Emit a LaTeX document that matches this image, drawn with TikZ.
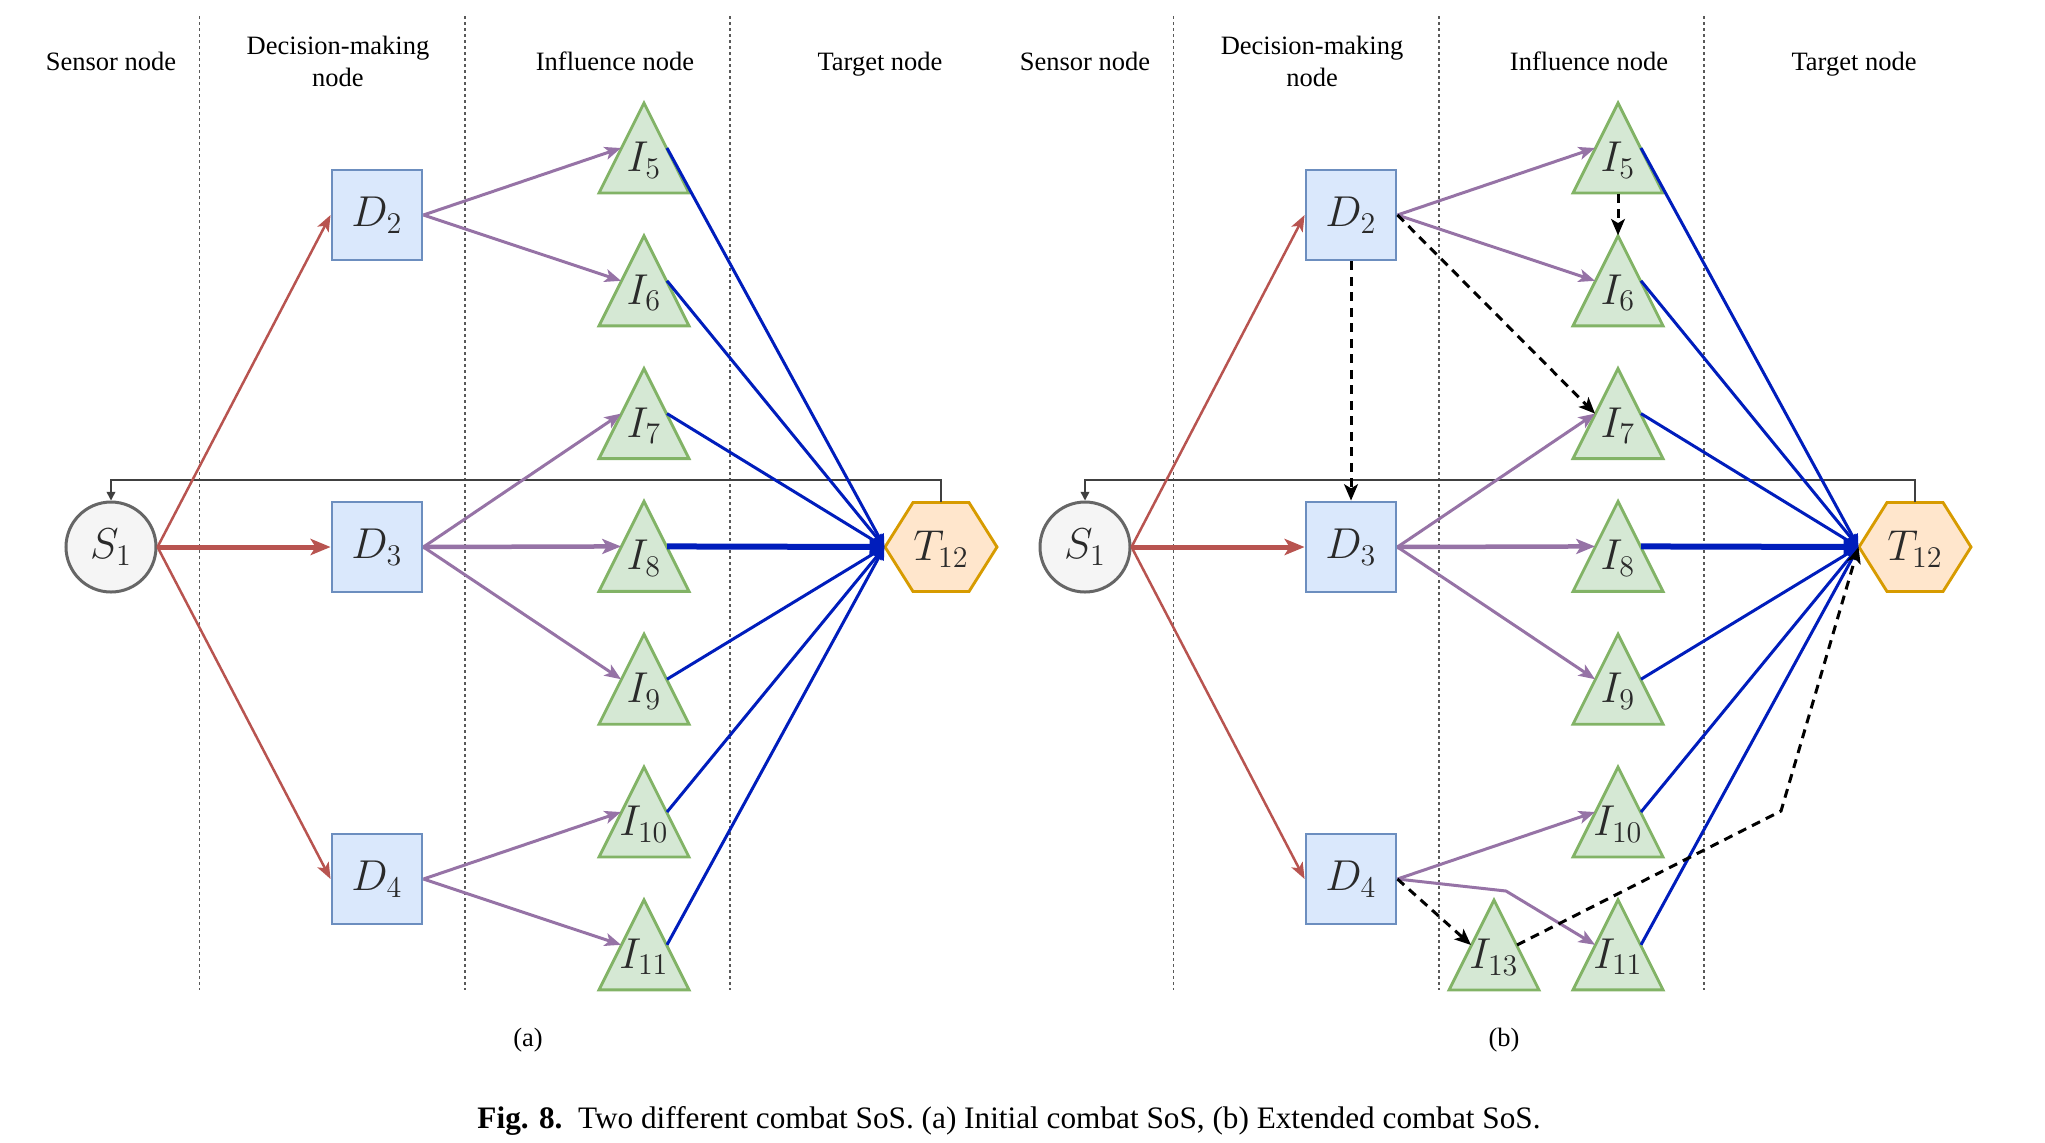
\documentclass[tikz,border=0pt]{standalone}
\usepackage{fontspec}
\setmainfont{Liberation Serif}
\usetikzlibrary{arrows.meta}
\definecolor{cred}{HTML}{B85450}
\definecolor{cpurple}{HTML}{9673A6}
\definecolor{cblue}{HTML}{001DBC}
\definecolor{gstroke}{HTML}{82B366}
\definecolor{gfill}{HTML}{D5E8D4}
\definecolor{bstroke}{HTML}{6C8EBF}
\definecolor{bfill}{HTML}{DAE8FC}
\definecolor{ostroke}{HTML}{D79B00}
\definecolor{ofill}{HTML}{FFE6CC}
\definecolor{sstroke}{HTML}{666666}
\definecolor{sfill}{HTML}{F5F5F5}
\definecolor{labc}{HTML}{2A2A2A}
\newcommand{\tri}[4]{%
  \draw[trishape] (#2-45,#3+45) -- (#2,#3-45) -- (#2+45,#3+45) -- cycle;
  \node[tribox] (#1) at (#2,#3) {};
  \node[mlab] (#1t) at (#2,#3+12) {$I_{#4}$};
}
\newcommand{\hexa}[3]{%
  \draw[hexshape] (#2-56,#3) -- (#2-28,#3-44.5) -- (#2+28,#3-44.5) -- (#2+56,#3) -- (#2+28,#3+44.5) -- (#2-28,#3+44.5) -- cycle;
  \node[hexbox] (#1) at (#2,#3) {};
  \node[mlab] (#1t) at (#2,#3+2) {$T_{12}$};
}
\newcommand{\panel}[2]{%
  \foreach \xx [count=\c] in {199.5,465,730} \draw[sepline] (\xx+#1,16) -- (\xx+#1,990) coordinate (sep\c#2);
  \node[head, anchor=base] (hs#2) at (111+#1,70) {Sensor node};
  \node[head] (hd#2) at (338+#1,61.5) {Decision-making\\node};
  \node[head, anchor=base] (hi#2) at (615+#1,70) {Influence node};
  \node[head, anchor=base] (ht#2) at (880+#1,70) {Target node};
  \node[snode] (S#2) at (111+#1,547) {$S_1$};
  \node[dbox] (D2#2) at (377+#1,215) {$D_2$};
  \node[dbox] (D3#2) at (377+#1,547) {$D_3$};
  \node[dbox] (D4#2) at (377+#1,879) {$D_4$};
  \foreach \k in {5,...,11} {
    \pgfmathsetmacro\ym{148+132.8*(\k-5)}
    \tri{I\k#2}{644+#1}{\ym}{\k}
  }
  \hexa{T#2}{941+#1}{547}
  \draw[fb] (T#2.north) -- (T#2.north |- 0,480) -| (S#2.north);
  \draw[redthin] (S#2.east) -- (D2#2.west);
  \draw[redthick] (S#2.east) -- (D3#2.west);
  \draw[redthin] (S#2.east) -- (D4#2.west);
  \draw[purp] (D2#2.east) -- (I5#2.west);
  \draw[purp] (D2#2.east) -- (I6#2.west);
  \draw[purp] (D3#2.east) -- (I7#2.west);
  \draw[purpthick] (D3#2.east) -- (I8#2.west);
  \draw[purp] (D3#2.east) -- (I9#2.west);
  \draw[purp] (D4#2.east) -- (I10#2.west);
  \foreach \k in {5,6,7,9,10,11} \draw[blu] (I\k#2.east) -- (T#2.west);
  \draw[bluthick] (I8#2.east) -- (T#2.west);
}
\begin{document}
\begin{tikzpicture}[x=0.4pt,y=-0.4pt,
  sepline/.style={draw=black!65, line width=0.5pt, dash pattern=on 1.2pt off 1.2pt},
  head/.style={font=\fontsize{10.6}{12.8}\selectfont, align=center, inner sep=0pt},
  mlab/.style={font=\fontsize{16.5}{19}\selectfont, text=labc, inner sep=0pt},
  snode/.style={circle, draw=sstroke, fill=sfill, line width=1.2pt, minimum size=36pt, inner sep=0pt, text=labc, font=\fontsize{16.5}{19}\selectfont},
  dbox/.style={rectangle, draw=bstroke, fill=bfill, line width=1.15pt, minimum size=36pt, inner sep=0pt, text=labc, font=\fontsize{16.5}{19}\selectfont},
  trishape/.style={draw=gstroke, fill=gfill, line width=1.15pt, line join=miter},
  tribox/.style={rectangle, minimum width=18pt, minimum height=36pt, inner sep=0pt},
  hexshape/.style={draw=ostroke, fill=ofill, line width=1.15pt},
  hexbox/.style={rectangle, minimum width=44.8pt, minimum height=35.6pt, inner sep=0pt},
  fb/.style={draw=black!75, line width=0.6pt, -{Triangle[length=3.5pt,width=3.5pt]}},
  redthin/.style={draw=cred, line width=1pt, -{Stealth[length=6.5pt,width=5pt,inset=1.6pt]}},
  redthick/.style={draw=cred, line width=2pt, -{Stealth[length=8pt,width=6.5pt,inset=2pt]}},
  purp/.style={draw=cpurple, line width=1.2pt, -{Stealth[length=6.5pt,width=5.2pt,inset=1.6pt]}},
  purpthick/.style={draw=cpurple, line width=1.8pt, -{Stealth[length=7.5pt,width=6pt,inset=1.8pt]}},
  blu/.style={draw=cblue, line width=1.2pt, -{Triangle[length=5pt,width=4.5pt]}},
  bluthick/.style={draw=cblue, line width=2.4pt, -{Triangle[length=6pt,width=6pt]}},
  dasharrow/.style={draw=black, line width=1.2pt, dash pattern=on 3.6pt off 2.6pt, -{Stealth[length=6.5pt,width=5.5pt,inset=1.6pt]}},
]
\useasboundingbox (0,0) rectangle (2045,1142);
\panel{0}{a}
\draw[purp] (D4a.east) -- (I11a.west);
\panel{974}{b}
\tri{I13b}{1494}{945}{13}
\draw[purp] (D4b.east) -- (1506,891) -- (I11b.west);
\draw[dasharrow] (D2b.south) -- (D3b.north);
\draw[dasharrow] (D2b.east) -- (I7b.west);
\draw[dasharrow] (I5b.south) -- (I6b.north);
\draw[dasharrow] (D4b.east) -- (I13b.west);
\draw[dasharrow] (I13b.east) -- (1781,811) -- (Tb.west);
\node[head] (capa) at (528,1040) {(a)};
\node[head] (capb) at (1504,1040) {(b)};
\node[font=\fontsize{12.5}{15}\selectfont, inner sep=0pt] (cap) at (1009,1121) {\textbf{Fig. 8.}\enspace Two different combat SoS. (a) Initial combat SoS, (b) Extended combat SoS.};
\end{tikzpicture}
\end{document}
